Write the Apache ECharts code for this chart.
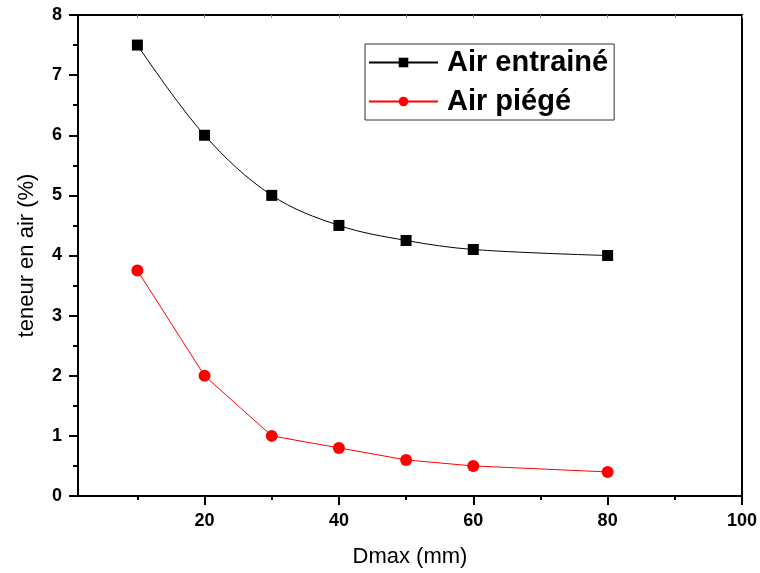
<!DOCTYPE html>
<html>
<head>
<meta charset="utf-8">
<script src="https://cdn.jsdelivr.net/npm/echarts@6/dist/echarts.min.js"></script>
<style>
  html, body { margin: 0; padding: 0; background: #fff; }
  #chart { width: 760px; height: 573px; }
</style>
</head>
<body>
<div id="chart"></div>
<script>
// data
var dmax = [10, 20, 30, 40, 50, 60, 80];
var airEntraine = [7.5, 6.0, 5.0, 4.5, 4.25, 4.1, 4.0];
var airPiege = [3.75, 2.0, 1.0, 0.8, 0.6, 0.5, 0.4];
var xLabelTicks = [20, 40, 60, 80, 100];
var xMinorTicks = [10, 30, 50, 70, 90];
var allTicks = [10, 20, 30, 40, 50, 60, 70, 80, 90, 100];

var font = '"Liberation Sans", Arial, sans-serif';
var xMin = 1.16, xMax = 100;

function pairs(xs, ys) {
    return xs.map(function (x, i) { return [x, ys[i]]; });
}

var chart = echarts.init(document.getElementById('chart'));

var option = {
    animation: false,
    textStyle: { fontFamily: font },
    grid: { left: 78, top: 15, right: 16, bottom: 76 },
    legend: {
        left: 365,
        top: 44,
        orient: 'vertical',
        backgroundColor: '#fff',
        borderColor: '#333',
        borderWidth: 1,
        padding: [4, 6, 4, 3],
        itemGap: 10,
        itemWidth: 69,
        itemHeight: 12,
        textStyle: { fontFamily: font, fontSize: 29, fontWeight: 'bold', color: '#000', padding: [0, 0, 0, 4] },
        data: ['Air entrainé', 'Air piégé']
    },
    xAxis: [
        {
            type: 'value', min: xMin, max: xMax, position: 'bottom',
            name: 'Dmax (mm)', nameLocation: 'middle', nameGap: 50,
            nameTextStyle: { fontFamily: font, fontSize: 22, color: '#000' },
            axisLine: { lineStyle: { color: '#000', width: 2 } },
            axisTick: { show: true, customValues: xLabelTicks, length: 9, inside: false, lineStyle: { color: '#000', width: 2 } },
            axisLabel: { customValues: xLabelTicks, fontFamily: font, fontSize: 18, fontWeight: 'bold', color: '#000', margin: 16 },
            splitLine: { show: false }
        },
        {
            type: 'value', min: xMin, max: xMax, position: 'bottom',
            axisLine: { show: false },
            axisTick: { show: true, customValues: xMinorTicks, length: 4, lineStyle: { color: '#000', width: 2 } },
            axisLabel: { show: false },
            splitLine: { show: false }
        },
        {
            type: 'value', min: xMin, max: xMax, position: 'top',
            axisLine: { lineStyle: { color: '#000', width: 2 } },
            axisTick: { show: true, customValues: allTicks, length: 3, inside: true, lineStyle: { color: '#888', width: 1 } },
            axisLabel: { show: false },
            splitLine: { show: false }
        }
    ],
    yAxis: [
        {
            type: 'value', min: 0, max: 8, interval: 1, position: 'left',
            name: 'teneur en air (%)', nameLocation: 'middle', nameGap: 40,
            nameTextStyle: { fontFamily: font, fontSize: 22, color: '#000' },
            axisLine: { show: true, lineStyle: { color: '#000', width: 2 } },
            axisTick: { show: true, length: 9, lineStyle: { color: '#000', width: 2 } },
            minorTick: { show: true, splitNumber: 2, length: 5, lineStyle: { color: '#000', width: 2 } },
            axisLabel: { fontFamily: font, fontSize: 18, fontWeight: 'bold', color: '#000', margin: 16 },
            splitLine: { show: false }
        },
        {
            type: 'value', min: 0, max: 8, interval: 1, position: 'right',
            axisLine: { show: true, lineStyle: { color: '#000', width: 2 } },
            axisTick: { show: false },
            axisLabel: { show: false },
            splitLine: { show: false }
        }
    ],
    series: [
        {
            name: 'Air entrainé',
            type: 'line',
            smooth: 0.35,
            data: pairs(dmax, airEntraine),
            symbol: 'rect',
            symbolSize: 11,
            itemStyle: { color: '#000' },
            lineStyle: { color: '#000', width: 1 }
        },
        {
            name: 'Air piégé',
            type: 'line',
            data: pairs(dmax, airPiege),
            symbol: 'circle',
            symbolSize: 12,
            itemStyle: { color: '#ff0000' },
            lineStyle: { color: '#ff0000', width: 1 }
        }
    ]
};

chart.setOption(option);
</script>
</body>
</html>
